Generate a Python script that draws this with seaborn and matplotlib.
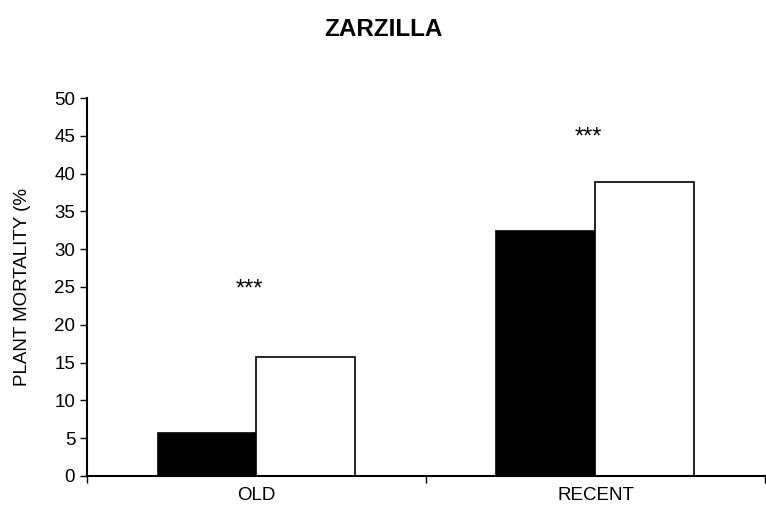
import matplotlib
matplotlib.use("Agg")
import matplotlib.pyplot as plt
import seaborn as sns
import pandas as pd

# Plant mortality by plantation age, two groups per age class
ages = ["OLD", "RECENT"]
groups = ["group1", "group2"]
mortality_group1 = [5.7, 32.4]
mortality_group2 = [15.8, 38.9]
significance = ["***", "***"]
significance_y = [24.7, 44.8]

df = pd.DataFrame({
    "age": ages * 2,
    "group": [groups[0]] * len(ages) + [groups[1]] * len(ages),
    "mortality": mortality_group1 + mortality_group2,
})

sns.set_theme(style="ticks")
plt.rcParams["font.family"] = ["Liberation Sans", "DejaVu Sans"]
plt.rcParams.update({
    "text.color": "black",
    "axes.labelcolor": "black",
    "xtick.color": "black",
    "ytick.color": "black",
    "axes.edgecolor": "black",
})

fig = plt.figure(figsize=(7.66, 5.23), dpi=100)
ax = fig.add_axes([0.1136, 0.0899, 0.885, 0.7227])

sns.barplot(data=df, x="age", y="mortality", hue="group", order=ages,
            hue_order=groups, palette={"group1": "black", "group2": "white"},
            width=0.584, edgecolor="black", linewidth=1.2, ax=ax, legend=False)

for i, (s, y) in enumerate(zip(significance, significance_y)):
    ax.text(i - 0.02, y, s, ha="center", va="center", fontsize=17, color="black")

ax.set_xlim(-0.5, 1.5)
ax.set_ylim(0, 50)
ax.set_yticks(range(0, 51, 5))
ax.set_xticks([-0.5, 0.5, 1.5], minor=False)
ax.set_xticks([0, 1], minor=True)
ax.set_xticklabels([])
ax.set_xticklabels(ages, minor=True)
ax.tick_params(axis="x", which="minor", length=0, labelsize=13.5, pad=8)
ax.tick_params(axis="x", which="major", length=5, width=1)
ax.tick_params(axis="y", length=5, width=1, labelsize=13.5)

ax.set_xlabel("")
ax.set_ylabel("PLANT MORTALITY (%", fontsize=13.5, labelpad=17)
fig.text(0.5, 1 - 30 / 523, "ZARZILLA", ha="center", va="center",
         fontsize=17.5, fontweight="bold")

sns.despine(ax=ax)
for sp in ["left", "bottom"]:
    ax.spines[sp].set_linewidth(1.5)

fig.savefig("out.png", dpi=100)
